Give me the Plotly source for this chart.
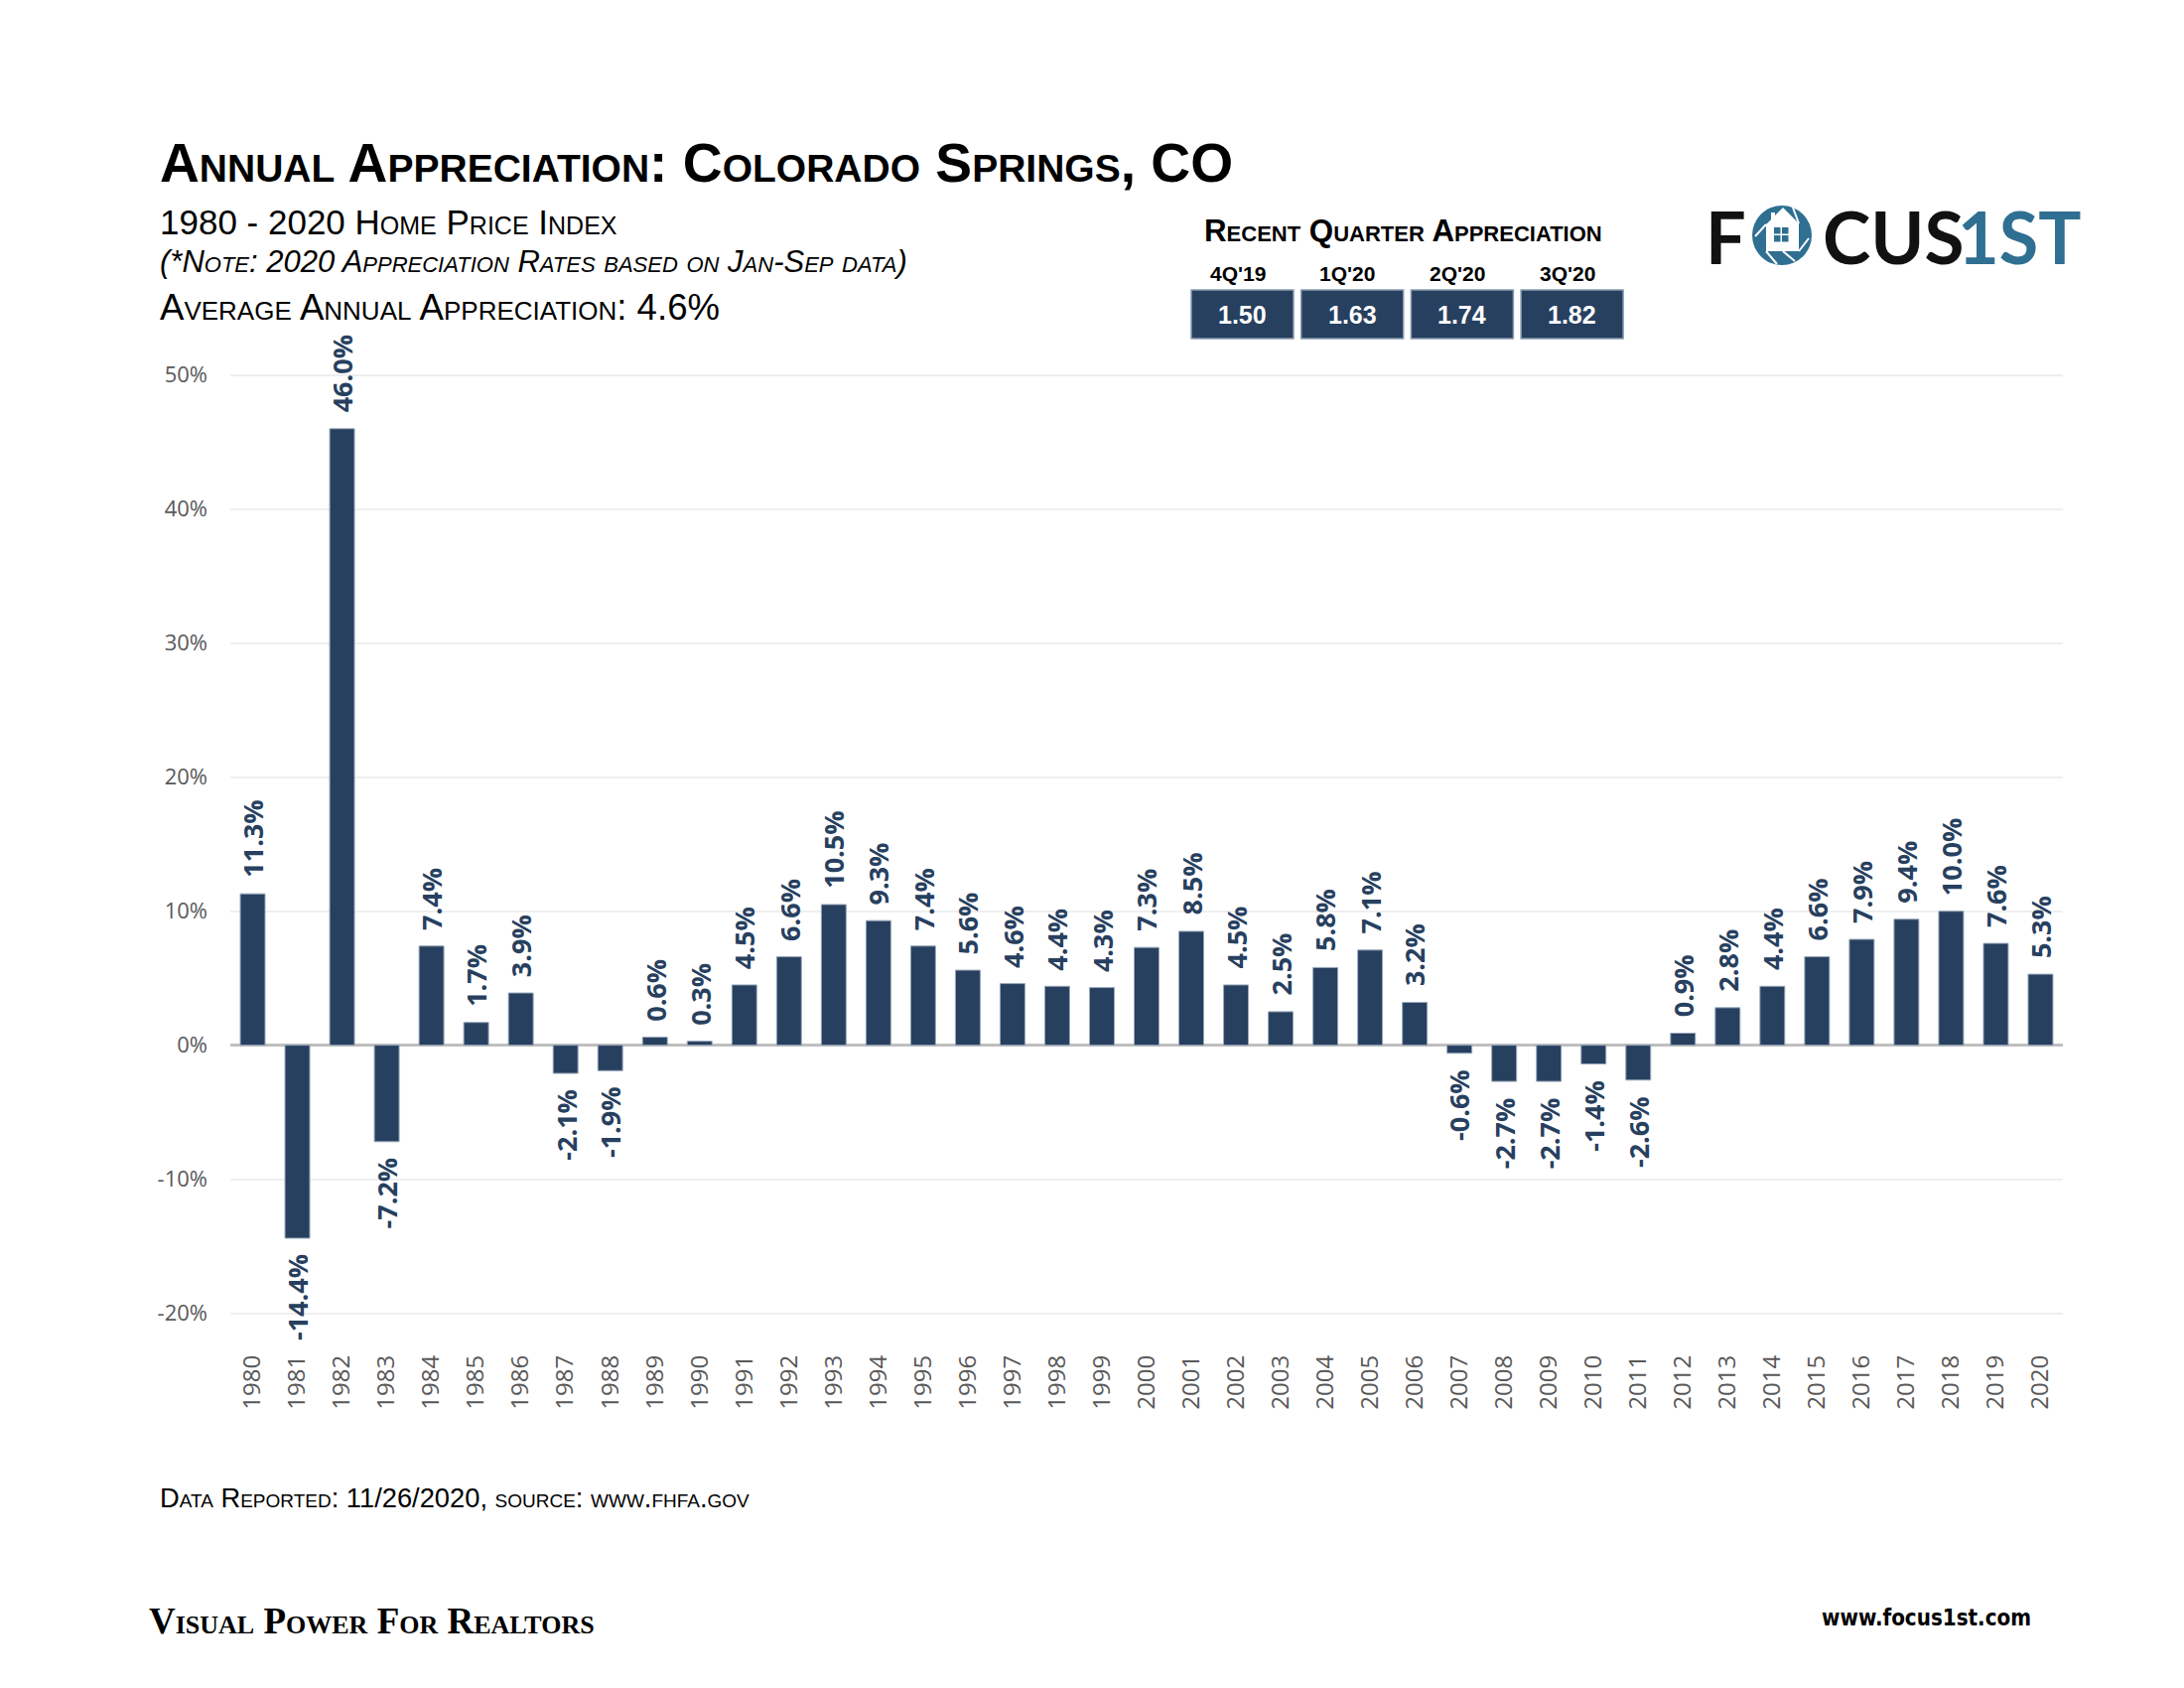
import plotly.graph_objects as go

# ---------------- data ----------------
years = [str(y) for y in range(1980, 2021)]
appreciation = [11.3, -14.4, 46.0, -7.2, 7.4, 1.7, 3.9, -2.1, -1.9, 0.6,
                0.3, 4.5, 6.6, 10.5, 9.3, 7.4, 5.6, 4.6, 4.4, 4.3,
                7.3, 8.5, 4.5, 2.5, 5.8, 7.1, 3.2, -0.6, -2.7, -2.7,
                -1.4, -2.6, 0.9, 2.8, 4.4, 6.6, 7.9, 9.4, 10.0, 7.6, 5.3]
y_ticks = [-20, -10, 0, 10, 20, 30, 40, 50]
y_tick_labels = [f"{t}%" for t in y_ticks]
quarter_labels = ["4Q'19", "1Q'20", "2Q'20", "3Q'20"]
quarter_values = ["1.50", "1.63", "1.74", "1.82"]

# ---------------- layout geometry ----------------
W, H = 2200, 1700
OFF = 8                               # page body margin of the html page
L, R, T, B = 232, 2078, 340, 1355     # plot area in page pixels
BAR = "#27405f"
GRAY = "#595959"


def px(x):
    return (x - L) / (R - L)


def py(y):
    return (B - y) / (B - T)


fig = go.Figure()
fig.add_trace(go.Bar(
    x=years, y=appreciation,
    marker=dict(color=BAR, line=dict(color="#9aa8bb", width=1)),
    hoverinfo="x+y",
))

annotations = []
# value labels (category index positions on the category axis)
for i, v in enumerate(appreciation):
    annotations.append(dict(
        x=i, y=v, xref="x", yref="y", text=f"{v:.1f}%", showarrow=False,
        textangle=-90, xanchor="center",
        yanchor="bottom" if v >= 0 else "top",
        yshift=14 if v >= 0 else -14,
        font=dict(family="Open Sans", size=27, color=BAR, weight="bold"),
    ))


def txt(x, y, text, size, color="black", family="Liberation Sans", weight="normal",
        variant="normal", style="normal", xanchor="left", yanchor="middle"):
    annotations.append(dict(
        x=px(x), y=py(y), xref="paper", yref="paper", text=text, showarrow=False,
        xanchor=xanchor, yanchor=yanchor,
        font=dict(family=family, size=size, color=color, weight=weight,
                  variant=variant, style=style),
    ))


# titles
txt(159, 164, "Annual Appreciation: Colorado Springs, CO", 55.2, weight="bold", variant="small-caps")
txt(159, 224, "1980 - 2020 Home Price Index", 35, variant="small-caps")
txt(159, 263, "(*Note: 2020 Appreciation Rates based on Jan-Sep data)", 31,
    variant="small-caps", style="italic")
txt(159, 309, "Average Annual Appreciation: 4.6%", 36.6, variant="small-caps")

# recent quarter block
txt(1413, 232, "Recent Quarter Appreciation", 31.3, weight="bold", variant="small-caps", xanchor="center")
shapes = []
box_w, box_gap, box_x0 = 103, 7.7, 1200
for i, (ql, qv) in enumerate(zip(quarter_labels, quarter_values)):
    x0 = box_x0 + i * (box_w + box_gap)
    shapes.append(dict(type="rect", xref="paper", yref="paper",
                       x0=px(x0), x1=px(x0 + box_w), y0=py(341), y1=py(292),
                       fillcolor=BAR, line=dict(color="#8a9ab0", width=1.5), layer="above"))
    txt(x0 + box_w / 2 - 5, 275, ql, 21, weight="bold", xanchor="center")
    txt(x0 + box_w / 2, 317, qv, 25, color="white", weight="bold", xanchor="center")

# logo
LOGO_BLUE = "#2f6f91"
txt(1716, 238, "F", 72, color="#111111", family="Lato", weight="bold")
txt(1834, 238, "CUS", 73, color="#111111", family="Lato", weight="bold")
txt(2098, 238, "1ST", 72, color=LOGO_BLUE, family="Lato", weight="bold", xanchor="right")
cx, cy, r = 1795, 237, 30
shapes.append(dict(type="circle", xref="paper", yref="paper",
                   x0=px(cx - r), x1=px(cx + r), y0=py(cy + r), y1=py(cy - r),
                   fillcolor=LOGO_BLUE, line=dict(width=0), layer="above"))
# house
house = [(1779, 253), (1779, 226), (1784, 221), (1784, 214), (1788, 214), (1788, 217),
         (1796, 209), (1812, 225), (1812, 253)]
path = "M " + " L ".join(f"{px(a)},{py(b)}" for a, b in house) + " Z"
shapes.append(dict(type="path", xref="paper", yref="paper", path=path,
                   fillcolor="white", line=dict(width=0), layer="above"))
# aperture blades
for (a, b, c, d) in [(1779, 253, 1790, 266), (1812, 253, 1822, 240), (1812, 225, 1806, 209),
                     (1779, 226, 1768, 238), (1796, 253, 1808, 263)]:
    shapes.append(dict(type="line", xref="paper", yref="paper",
                       x0=px(a), y0=py(b), x1=px(c), y1=py(d),
                       line=dict(color="white", width=2), layer="above"))
# windows
for (wx, wy) in [(1787, 229), (1795, 229), (1787, 237), (1795, 237)]:
    shapes.append(dict(type="rect", xref="paper", yref="paper",
                       x0=px(wx), x1=px(wx + 6.5), y0=py(wy + 6.5), y1=py(wy),
                       fillcolor=LOGO_BLUE, line=dict(width=0), layer="above"))

# footer
txt(159, 1508, "Data Reported: 11/26/2020, source: www.fhfa.gov", 27.3, variant="small-caps")
txt(148, 1632, "Visual Power For Realtors", 37, family="Liberation Serif", weight="bold",
    variant="small-caps")
txt(2048, 1629, "www.focus1st.com", 22.2, family="DejaVu Sans Condensed",
    weight="bold", xanchor="right")

fig.update_layout(
    width=W, height=H, autosize=False,
    margin=dict(l=L - OFF, r=W - R + OFF, t=T - OFF, b=H - B + OFF, pad=0),
    paper_bgcolor="white", plot_bgcolor="white",
    bargap=0.445, showlegend=False,
    annotations=annotations, shapes=shapes,
    xaxis=dict(type="category", range=[-0.5, len(years) - 0.5], tickangle=-90,
               showgrid=False, showline=False, ticks="", ticklabelstandoff=4,
               tickfont=dict(family="Open Sans", size=24, color=GRAY)),
    yaxis=dict(range=[-22.4, 52.8], tickvals=y_ticks, ticktext=y_tick_labels,
               showgrid=True, gridcolor="#efefef", gridwidth=2,
               zeroline=True, zerolinecolor="#bfbfbf", zerolinewidth=3,
               showline=False, ticks="", ticklabelstandoff=22,
               tickfont=dict(family="Open Sans", size=22, color=GRAY)),
)

fig.write_html("out.html")
